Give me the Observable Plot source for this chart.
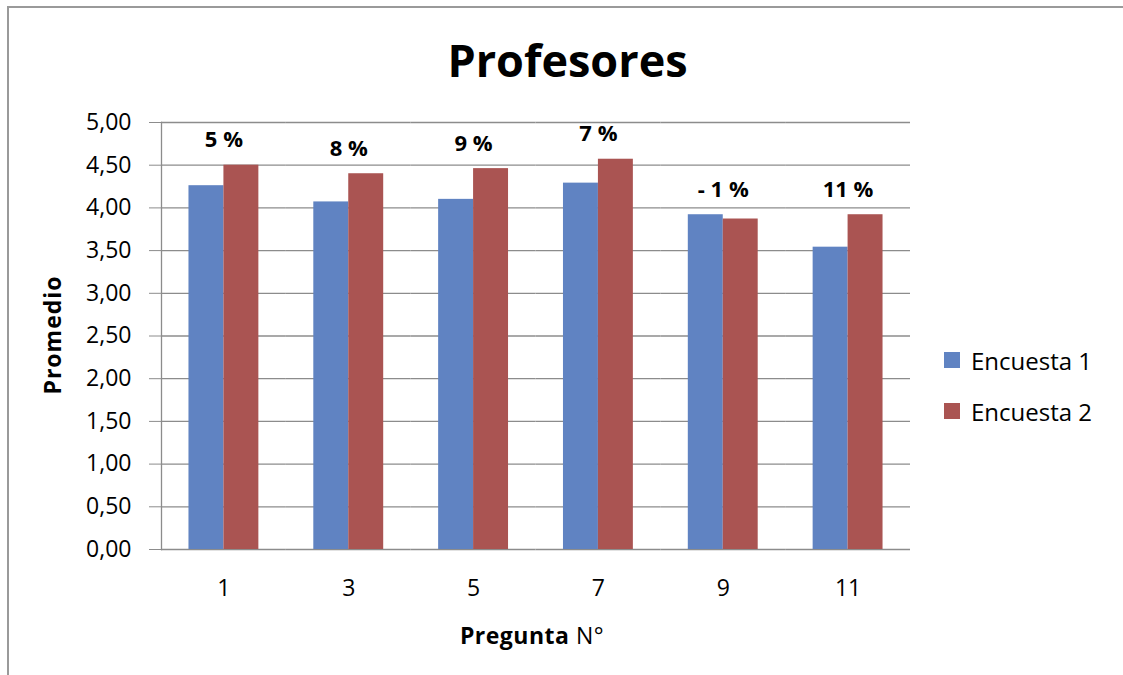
<!DOCTYPE html>
<html>
<head>
<meta charset="utf-8">
<script src="https://cdn.jsdelivr.net/npm/d3@7"></script>
<script src="https://cdn.jsdelivr.net/npm/@observablehq/plot@0.6"></script>
<style>
  html, body { margin: 0; padding: 0; background: #fff; }
  #wrap { position: relative; width: 1123px; height: 675px; overflow: hidden; font-family: "Open Sans", Lato, sans-serif; color: #000; }
  #frame { position: absolute; left: 7px; top: 6px; width: 1200px; height: 800px; border-left: 2px solid #9a9a9a; border-top: 2px solid #9a9a9a; }
  #title { position: absolute; left: 0; width: 1135px; top: 59px; transform: translateY(-50%); text-align: center; font-size: 45px; font-weight: bold; line-height: 1; }
  #ylab { position: absolute; left: 52px; top: 335px; transform: translate(-50%, -50%) rotate(-90deg); font-size: 23px; font-weight: bold; white-space: nowrap; letter-spacing: 1px; }
  #xlab { position: absolute; left: 532px; top: 635px; transform: translate(-50%, -50%); font-size: 23px; white-space: nowrap; letter-spacing: 0.5px; }
  #legend { position: absolute; left: 944px; top: 344px; font-size: 24px; }
  .li { display: flex; align-items: center; height: 32px; margin-bottom: 19px; }
  .sw { width: 16px; height: 16px; margin-right: 11px; }
  #chart { position: absolute; left: 0; top: 0; }
</style>
</head>
<body>
<div id="wrap">
  <div id="frame"></div>
  <div id="chart"></div>
  <div id="title">Profesores</div>
  <div id="ylab">Promedio</div>
  <div id="xlab"><b>Pregunta</b> N°</div>
  <div id="legend"></div>
</div>
<script>
const questions = ["1", "3", "5", "7", "9", "11"];
const encuesta1 = [4.26, 4.07, 4.10, 4.29, 3.92, 3.54];
const encuesta2 = [4.50, 4.40, 4.46, 4.57, 3.87, 3.92];
const changeLabels = ["5 %", "8 %", "9 %", "7 %", "- 1 %", "11 %"];
const seriesNames = ["Encuesta 1", "Encuesta 2"];
const seriesColors = ["#6083c2", "#aa5452"];
const yTicks = [0, 0.5, 1, 1.5, 2, 2.5, 3, 3.5, 4, 4.5, 5];

const bars = [];
questions.forEach((q, i) => {
  bars.push({q, enc: seriesNames[0], v: encuesta1[i]});
  bars.push({q, enc: seriesNames[1], v: encuesta2[i]});
});
const labels = questions.map((q, i) => ({q, v: Math.max(encuesta1[i], encuesta2[i]), t: changeLabels[i]}));

const fmt = d => d.toFixed(2).replace(".", ",");

const chart = Plot.plot({
  width: 1123,
  height: 675,
  marginLeft: 161,
  marginRight: 213,
  marginTop: 122,
  marginBottom: 126,
  style: {fontFamily: "'Open Sans', Lato, sans-serif", background: "transparent", color: "#000"},
  fx: {domain: questions, padding: 0, round: false, label: null, axis: null},
  x: {domain: seriesNames, paddingInner: 0, paddingOuter: 0.786, round: false, axis: null},
  y: {domain: [0, 5], label: null, axis: null},
  color: {domain: seriesNames, range: seriesColors},
  marks: [
    Plot.ruleY(yTicks, {stroke: "#8c8c8c", strokeWidth: 1.3}),
    Plot.barY(bars, {fx: "q", x: "enc", y: "v", fill: "enc"}),
    Plot.text(labels, {fx: "q", y: "v", text: "t", dy: -25, fontSize: 22, fontWeight: "bold", fill: "#000", style: "letter-spacing: 1.5px"}),
    Plot.axisY({ticks: yTicks, tickFormat: fmt, tickSize: 12, tickPadding: 18, fontSize: 23, stroke: "#8c8c8c", label: null, fill: "#000"}),
    Plot.axisFx({anchor: "bottom", tickSize: 0, tickPadding: 30, fontSize: 23, label: null, fill: "#000"}),
    Plot.frame({anchor: "left", stroke: "#8c8c8c", strokeWidth: 1.3, facet: "super"})
  ]
});
document.getElementById("chart").appendChild(chart);

const legend = document.getElementById("legend");
seriesNames.forEach((n, i) => {
  const row = document.createElement("div");
  row.className = "li";
  const sw = document.createElement("div");
  sw.className = "sw";
  sw.style.background = seriesColors[i];
  const tx = document.createElement("span");
  tx.textContent = n;
  row.appendChild(sw);
  row.appendChild(tx);
  legend.appendChild(row);
});
</script>
</body>
</html>
